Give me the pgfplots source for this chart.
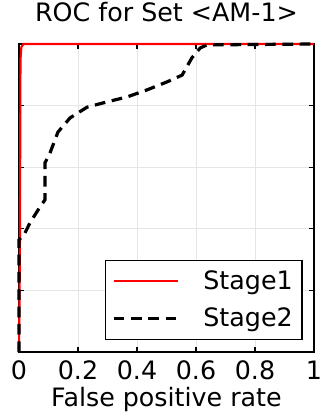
\documentclass[border=0pt]{standalone}
\usepackage{pgfplots}
\pgfplotsset{compat=1.18}
\usepackage{fontspec}
\setmainfont{DejaVu Sans}
\begin{document}
\begin{tikzpicture}
\begin{axis}[
  scale only axis,
  width=221.25pt, height=231pt,
  xmin=0, xmax=1, ymin=0, ymax=1,
  xtick={0,0.2,0.4,0.6,0.8,1},
  xticklabels={0,0.2,0.4,0.6,0.8,1},
  ytick={0,0.2,0.4,0.6,0.8,1},
  yticklabels={},
  tick align=inside,
  major tick length=4pt,
  tick style={black, line width=0.9pt},
  grid=major,
  grid style={gray!20, line width=0.7pt},
  axis line style={line width=1.5pt},
  /pgf/number format/assume math mode=true,
  ticklabel style={font=\fontsize{19}{22}\selectfont},
  xticklabel style={anchor=base, yshift=-20.5pt},
  title={ROC for Set <AM-1>},
  title style={font=\fontsize{19}{22}\selectfont, at={(0.5,1)}, anchor=base, yshift=10.5pt},
  xlabel={False positive rate},
  xlabel style={font=\fontsize{19}{22}\selectfont, at={(0.5,0)}, anchor=base, yshift=-40.5pt},
  legend style={at={(0.962,0.039)}, anchor=south east, font=\fontsize{19}{22}\selectfont,
     draw=black, line width=1.1pt, inner xsep=5pt, inner ysep=6pt, row sep=8pt,
     nodes={inner sep=2pt}},
  legend cell align=left,
  legend image code/.code={\draw[#1] (4pt,0pt) -- (52pt,0pt);},
  legend style={column sep=16pt},
  clip=false,
]
\addplot[red, line width=1.6pt] coordinates {
(0,0) (0.003,0.3) (0.005,0.95) (0.008,0.99) (0.015,1) (1,1)
};
\addlegendentry{Stage1}
\addplot[black, line width=2.4pt, dash pattern=on 8pt off 5pt] coordinates {
(0,0) (0,0.364) (0.02,0.386) (0.037,0.419) (0.071,0.471) (0.088,0.494)
(0.088,0.614) (0.105,0.646) (0.132,0.714) (0.173,0.760) (0.231,0.795)
(0.298,0.812) (0.366,0.828) (0.434,0.851) (0.502,0.877) (0.553,0.899)
(0.586,0.955) (0.614,0.987) (0.637,0.997) (1,1)
};
\addlegendentry{Stage2}
\end{axis}
\pgfresetboundingbox
\path ([shift={(-14.25pt,-48pt)}]current axis.south west) rectangle ([shift={(6pt,33pt)}]current axis.north east);
\end{tikzpicture}
\end{document}
